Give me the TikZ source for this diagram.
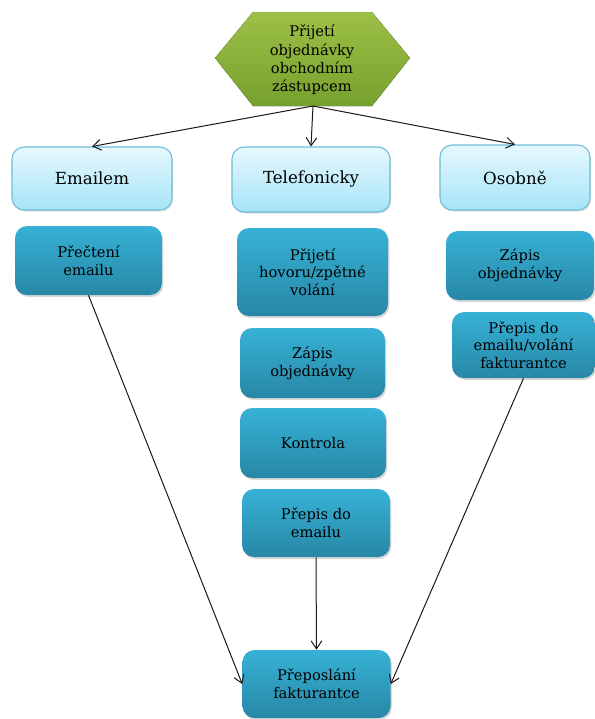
\documentclass[tikz,border=0pt]{standalone}
\usepackage{fontspec}
\setmainfont{DejaVu Serif}
\usetikzlibrary{arrows.meta,shadows,shapes.geometric}
\definecolor{hexgreenA}{HTML}{9DC046}
\definecolor{hexgreenB}{HTML}{76A02D}
\definecolor{lightA}{HTML}{E6F8FD}
\definecolor{lightB}{HTML}{A6E4F7}
\definecolor{lightEdge}{HTML}{6FBCD6}
\definecolor{darkA}{HTML}{36B2D6}
\definecolor{darkB}{HTML}{2887A6}
\tikzset{
  modebox/.style={draw=lightEdge, line width=0.8pt, rounded corners=9pt,
    top color=lightA, bottom color=lightB, align=center,
    font=\fontsize{12.5}{14}\selectfont,
    drop shadow={shadow xshift=0.8pt, shadow yshift=-1.2pt, opacity=0.25}},
  stepbox/.style={rounded corners=9pt, top color=darkA, bottom color=darkB,
    align=center, font=\fontsize{11}{13.2}\selectfont,
    drop shadow={shadow xshift=1pt, shadow yshift=-1.5pt, opacity=0.3}},
  link/.style={-{Straight Barb[length=6pt,width=8pt]}, line width=0.75pt, black!90}
}
\begin{document}
\begin{tikzpicture}[x=0.75pt,y=-0.75pt]
\useasboundingbox (0,0) rectangle (595,719);

% start of the process
\fill[top color=hexgreenA, bottom color=hexgreenB]
  (215,58) -- (253,12) -- (372,12) -- (410,58) -- (372,106) -- (253,106) -- cycle;
\node[align=center, font=\fontsize{11}{13.7}\selectfont] (start) at (312,60)
  {Přijetí\\objednávky\\obchodním\\zástupcem};
\coordinate (hexbot) at (313,106);

% the three ways an order arrives
\node[modebox, minimum width=160*0.75pt, minimum height=63*0.75pt] (email) at (92,178.5) {Emailem};
\node[modebox, minimum width=158*0.75pt, minimum height=65*0.75pt] (phone) at (311,179.5) {Telefonicky};
\node[modebox, minimum width=150*0.75pt, minimum height=65*0.75pt] (person) at (515,177.5) {Osobně};

% email branch
\node[stepbox, minimum width=147*0.75pt, minimum height=69*0.75pt] (read) at (88.5,260.5) {Přečtení\\emailu};

% phone branch
\node[stepbox, minimum width=151*0.75pt, minimum height=88*0.75pt] (call) at (312.5,272) {Přijetí\\hovoru/zpětné\\volání};
\node[stepbox, minimum width=145*0.75pt, minimum height=70*0.75pt] (writeA) at (312.5,363) {Zápis\\objednávky};
\node[stepbox, minimum width=146*0.75pt, minimum height=70*0.75pt] (check) at (313,443) {Kontrola};
\node[stepbox, minimum width=148*0.75pt, minimum height=68*0.75pt] (copyA) at (316,523) {Přepis do\\emailu};

% in-person branch
\node[stepbox, minimum width=148*0.75pt, minimum height=69*0.75pt] (writeB) at (520,265.5) {Zápis\\objednávky};
\node[stepbox, minimum width=143*0.75pt, minimum height=66*0.75pt] (copyB) at (523.5,345) {Přepis do\\emailu/volání\\fakturantce};

% final step
\node[stepbox, minimum width=148*0.75pt, minimum height=68*0.75pt] (forward) at (316.5,684) {Přeposlání\\fakturantce};

% connectors
\draw[link] (hexbot) -- (email.north);
\draw[link] (hexbot) -- (phone.north);
\draw[link] (hexbot) -- (person.north);
\draw[link] (read.south) -- (forward.west);
\draw[link] (copyA.south) -- (forward.north);
\draw[link] (copyB.south) -- (forward.east);
\end{tikzpicture}
\end{document}
